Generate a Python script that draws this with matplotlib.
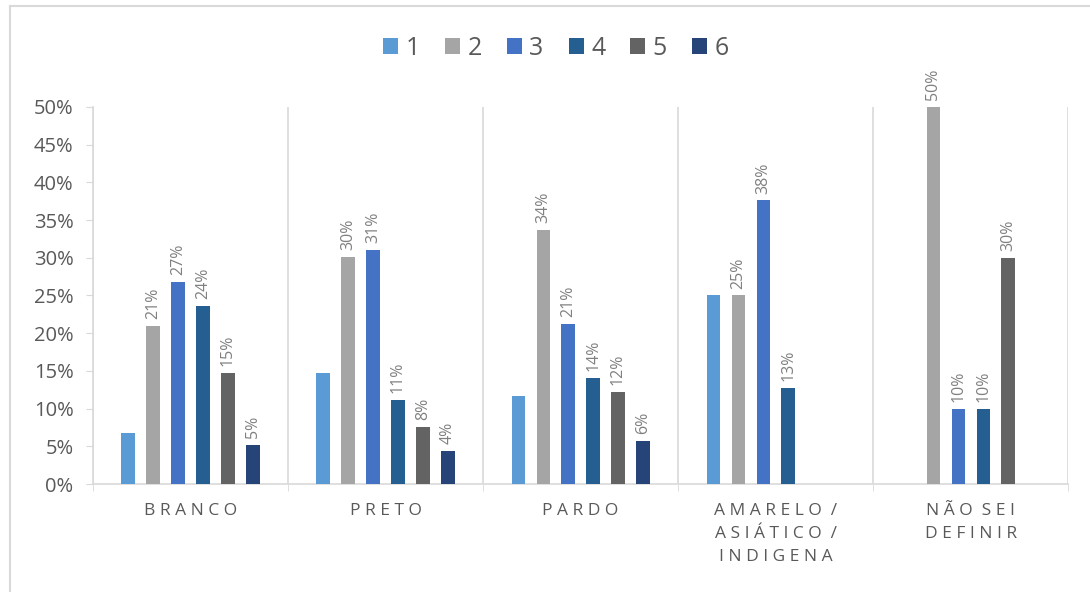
import numpy as np
import matplotlib.pyplot as plt
from matplotlib.lines import Line2D
from matplotlib.ticker import PercentFormatter

# -----------------------------
# Data
# -----------------------------
categories = ["B R A N C O", "P R E T O", "P A R D O",
              "A M A R E L O  /\nA S I Á T I C O  /\nI N D I G E N A",
              "N Ã O  S E I\nD E F I N I R"]
series_names = ["1", "2", "3", "4", "5", "6"]

s1 = [0.068, 0.147, 0.117, 0.250, 0.0]
s2 = [0.209, 0.301, 0.337, 0.250, 0.500]
s3 = [0.268, 0.310, 0.212, 0.376, 0.100]
s4 = [0.236, 0.111, 0.141, 0.127, 0.100]
s5 = [0.147, 0.076, 0.122, 0.0, 0.300]
s6 = [0.052, 0.044, 0.057, 0.0, 0.0]

colors = ["#5B9BD5", "#A5A5A5", "#4472C4", "#255E91", "#636363", "#264478"]
show_labels = [False, True, True, True, True, True]

plt.rcParams['font.family'] = ['Open Sans', 'DejaVu Sans']

fig = plt.figure(figsize=(10.9, 5.92), dpi=100)
ax = fig.add_axes([0.0853, 0.1824, 0.8947, 0.6369])

x = np.arange(len(categories))
step = 0.128
width = 0.068
all_series = [s1, s2, s3, s4, s5, s6]

for i, vals in enumerate(all_series):
    pos = x + (i - 2.5) * step
    vals = np.array(vals)
    mask = vals > 0
    ax.bar(pos[mask], vals[mask], width=width, color=colors[i],
           label=series_names[i], zorder=3)
    if show_labels[i]:
        for p, v in zip(pos[mask], vals[mask]):
            ax.annotate(f"{v*100:.0f}%", (p, v), xytext=(0, 5),
                        textcoords="offset points", rotation=90,
                        ha="center", va="bottom", fontsize=11.5,
                        color="#808080", annotation_clip=False)

# category separators
for b in np.arange(len(categories) + 1) - 0.5:
    ax.axvline(b, color="#D9D9D9", lw=1.2, zorder=1)

ax.set_xlim(-0.5, len(categories) - 0.5)
ax.set_ylim(0, 0.5)
ax.set_yticks(np.arange(0, 0.51, 0.05))
ax.yaxis.set_major_formatter(PercentFormatter(1.0, decimals=0))
ax.tick_params(axis="y", length=5, color="#D9D9D9", labelsize=14.5,
               labelcolor="#595959", pad=9)
ax.set_xticks(x)
ax.set_xticklabels(categories, fontsize=12.5, color="#595959",
                   linespacing=1.55, va="top")
ax.tick_params(axis="x", length=0, pad=14)
ax.set_xticks(np.arange(len(categories) + 1) - 0.5, minor=True)
ax.tick_params(axis="x", which="minor", length=5, color="#D9D9D9")

for side in ["top", "right"]:
    ax.spines[side].set_visible(False)
for side in ["left", "bottom"]:
    ax.spines[side].set_color("#D9D9D9")
    ax.spines[side].set_linewidth(1.2)

leg = ax.legend(loc="center", bbox_to_anchor=(0.51, 0.918),
                bbox_transform=fig.transFigure, ncol=6, frameon=False,
                fontsize=18, handlelength=0.6, handleheight=0.6,
                handletextpad=0.3, columnspacing=1.0)
for t in leg.get_texts():
    t.set_color("#595959")

# outer frame (left and top edges visible)
fig.add_artist(Line2D([10/1090, 10/1090], [0, 1 - 6/592],
                      transform=fig.transFigure, color="#D9D9D9", lw=1.5))
fig.add_artist(Line2D([10/1090, 1], [1 - 6/592, 1 - 6/592],
                      transform=fig.transFigure, color="#D9D9D9", lw=1.5))

fig.savefig("out.png", dpi=100)
